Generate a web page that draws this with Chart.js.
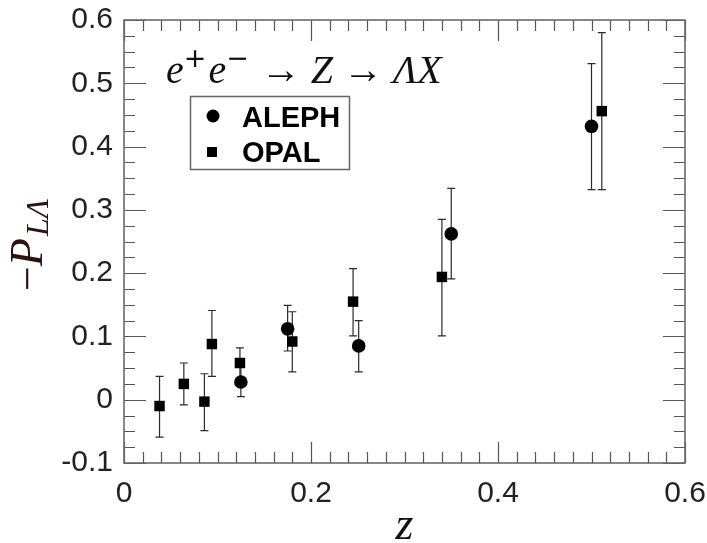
<!DOCTYPE html>
<html><head><meta charset="utf-8">
<script src="https://cdn.jsdelivr.net/npm/chart.js@4/dist/chart.umd.min.js"></script>
<style>html,body{margin:0;padding:0;background:#fff;}</style>
</head><body>
<canvas id="c" width="707" height="543"></canvas>
<script>
// ---- data ----
const alephZ  = [0.125, 0.175, 0.251, 0.350, 0.500];
const alephP  = [0.028, 0.112, 0.085, 0.262, 0.432];
const alephLo = [0.005, 0.077, 0.044, 0.191, 0.332];
const alephHi = [0.052, 0.149, 0.125, 0.334, 0.531];

const opalZ  = [0.038, 0.064, 0.086, 0.094, 0.124, 0.180, 0.245, 0.340, 0.511];
const opalP  = [-0.010, 0.025, -0.003, 0.088, 0.058, 0.092, 0.155, 0.194, 0.456];
const opalLo = [-0.059, -0.008, -0.049, 0.037, 0.034, 0.044, 0.101, 0.101, 0.332];
const opalHi = [0.037, 0.058, 0.041, 0.141, 0.082, 0.139, 0.207, 0.285, 0.580];

const xTickLabels = ['0', '0.2', '0.4', '0.6'];
const yTickLabels = ['-0.1', '0', '0.1', '0.2', '0.3', '0.4', '0.5', '0.6'];
const seriesNames = ['ALEPH', 'OPAL'];

const toPts = (xs, ys) => xs.map((x, i) => ({x: x, y: ys[i]}));

const errorBars = {
  id: 'errorBars',
  beforeDatasetsDraw(chart) {
    const ctx = chart.ctx, ys = chart.scales.y;
    const lims = [[alephLo, alephHi], [opalLo, opalHi]];
    ctx.save();
    ctx.strokeStyle = '#2a2a2a';
    ctx.lineWidth = 1.2;
    chart.data.datasets.forEach((ds, di) => {
      const meta = chart.getDatasetMeta(di);
      meta.data.forEach((pt, i) => {
        const x = pt.x;
        const y1 = ys.getPixelForValue(lims[di][0][i]);
        const y2 = ys.getPixelForValue(lims[di][1][i]);
        ctx.beginPath();
        ctx.moveTo(x, y1); ctx.lineTo(x, y2);
        ctx.moveTo(x - 4, y1); ctx.lineTo(x + 4, y1);
        ctx.moveTo(x - 4, y2); ctx.lineTo(x + 4, y2);
        ctx.stroke();
      });
    });
    ctx.restore();
  }
};

const frameTicks = {
  id: 'frameTicks',
  afterDraw(chart) {
    const ctx = chart.ctx, a = chart.chartArea;
    const xs = chart.scales.x, ys = chart.scales.y;
    ctx.save();
    ctx.strokeStyle = '#555';
    ctx.lineWidth = 1.2;
    ctx.beginPath();
    for (let i = 0; i <= 30; i++) {
      const px = Math.round(xs.getPixelForValue(i * 0.02)) + 0.5;
      const L = (i % 10 === 0) ? 21 : 11;
      ctx.moveTo(px, a.bottom); ctx.lineTo(px, a.bottom - L);
      ctx.moveTo(px, a.top); ctx.lineTo(px, a.top + L);
    }
    for (let i = 0; i <= 28; i++) {
      const py = Math.round(ys.getPixelForValue(-0.1 + i * 0.025)) + 0.5;
      const L = (i % 4 === 0) ? 22 : 11;
      ctx.moveTo(a.left, py); ctx.lineTo(a.left + L, py);
      ctx.moveTo(a.right, py); ctx.lineTo(a.right - L, py);
    }
    ctx.stroke();
    ctx.strokeStyle = '#6a6a6a';
    ctx.lineWidth = 1.6;
    ctx.strokeRect(a.left, a.top, a.right - a.left, a.bottom - a.top);
    ctx.restore();
  }
};

const texts = {
  id: 'texts',
  afterDraw(chart) {
    const ctx = chart.ctx;
    ctx.save();
    ctx.fillStyle = '#111';
    ctx.textBaseline = 'alphabetic';
    ctx.textAlign = 'left';
    // process annotation
    const it = 'italic 40px "Liberation Serif", serif';
    const rm = '40px "Liberation Serif", serif';
    const sup = '27px "DejaVu Sans", sans-serif';
    const pieces = [
      ['e', it, 0], ['+', sup, -16], ['e', it, 0], ['\u2212', sup, -16],
      [' \u2192 ', rm, 0], ['Z', it, 0], [' \u2192 ', rm, 0], ['\u039BX', it, 0]
    ];
    let x = 166;
    const base = 83;
    pieces.forEach(p => {
      ctx.font = p[1];
      ctx.fillText(p[0], x, base + p[2]);
      x += ctx.measureText(p[0]).width + (p[1] === sup ? 2 : 0);
    });

    // legend box
    ctx.strokeStyle = '#666';
    ctx.lineWidth = 1.5;
    ctx.strokeRect(190.5, 96.5, 159, 73);
    ctx.fillStyle = '#000';
    ctx.beginPath(); ctx.arc(213, 116, 6.5, 0, Math.PI * 2); ctx.fill();
    ctx.fillRect(207, 147, 10, 10);
    ctx.font = 'bold 29px "Liberation Sans", Arial, sans-serif';
    ctx.fillText(seriesNames[0], 242, 127);
    ctx.fillText(seriesNames[1], 242, 162);

    // y title  -P_{LΛ}
    ctx.translate(42, 245);
    ctx.rotate(-Math.PI / 2);
    const f1 = '44px "Liberation Serif", serif';
    const f2 = 'italic 46px "Liberation Serif", serif';
    const f3 = 'italic 32px "Liberation Serif", serif';
    ctx.font = f1; const w1 = ctx.measureText('\u2212').width;
    ctx.font = f2; const w2 = ctx.measureText('P').width;
    ctx.font = f3; const w3 = ctx.measureText('L\u039B').width;
    let sx = -(w1 + w2 + w3 + 2) / 2;
    ctx.fillStyle = '#2a1410';
    ctx.font = f1; ctx.fillText('\u2212', sx, 0); sx += w1;
    ctx.font = f2; ctx.fillText('P', sx, 0); sx += w2 + 2;
    ctx.font = f3; ctx.fillText('L\u039B', sx, 6);
    ctx.restore();
  }
};

new Chart(document.getElementById('c'), {
  type: 'scatter',
  data: {
    datasets: [
      {label: seriesNames[0], data: toPts(alephZ, alephP), pointStyle: 'circle',
       pointRadius: 6.8, backgroundColor: '#000', borderColor: '#000', borderWidth: 0, showLine: false},
      {label: seriesNames[1], data: toPts(opalZ, opalP), pointStyle: 'rect',
       pointRadius: 7.4, backgroundColor: '#000', borderColor: '#000', borderWidth: 0, showLine: false}
    ]
  },
  options: {
    responsive: false,
    animation: false,
    layout: {padding: {top: 20, right: 22, left: 0, bottom: 0}},
    plugins: {legend: {display: false}, tooltip: {enabled: false}},
    scales: {
      x: {
        type: 'linear', min: 0, max: 0.6, position: 'bottom',
        grid: {display: false, drawTicks: false}, border: {display: false},
        ticks: {
          stepSize: 0.2, padding: 13, color: '#222', maxRotation: 0, autoSkip: false,
          font: {family: '"Liberation Sans", Arial, sans-serif', size: 30},
          callback: v => xTickLabels.find(l => Math.abs(parseFloat(l) - v) < 1e-6) ?? ''
        },
        title: {display: true, text: 'z', color: '#111',
          font: {family: '"Liberation Serif", serif', style: 'italic', size: 46, lineHeight: 0.7},
          padding: {top: 0, bottom: 0}},
        afterFit: s => { s.height = 80; s.paddingLeft = 0; s.paddingRight = 0; s.paddingTop = 0; s.paddingBottom = 0; }
      },
      y: {
        type: 'linear', min: -0.1, max: 0.6,
        grid: {display: false, drawTicks: false}, border: {display: false},
        ticks: {
          stepSize: 0.1, padding: 11, color: '#222', autoSkip: false,
          font: {family: '"Liberation Sans", Arial, sans-serif', size: 30},
          callback: v => yTickLabels.find(l => Math.abs(parseFloat(l) - v) < 1e-6) ?? ''
        },
        afterFit: s => { s.width = 124; s.paddingLeft = 0; s.paddingRight = 0; s.paddingTop = 0; s.paddingBottom = 0; }
      }
    }
  },
  plugins: [errorBars, frameTicks, texts]
});
</script>
</body></html>
